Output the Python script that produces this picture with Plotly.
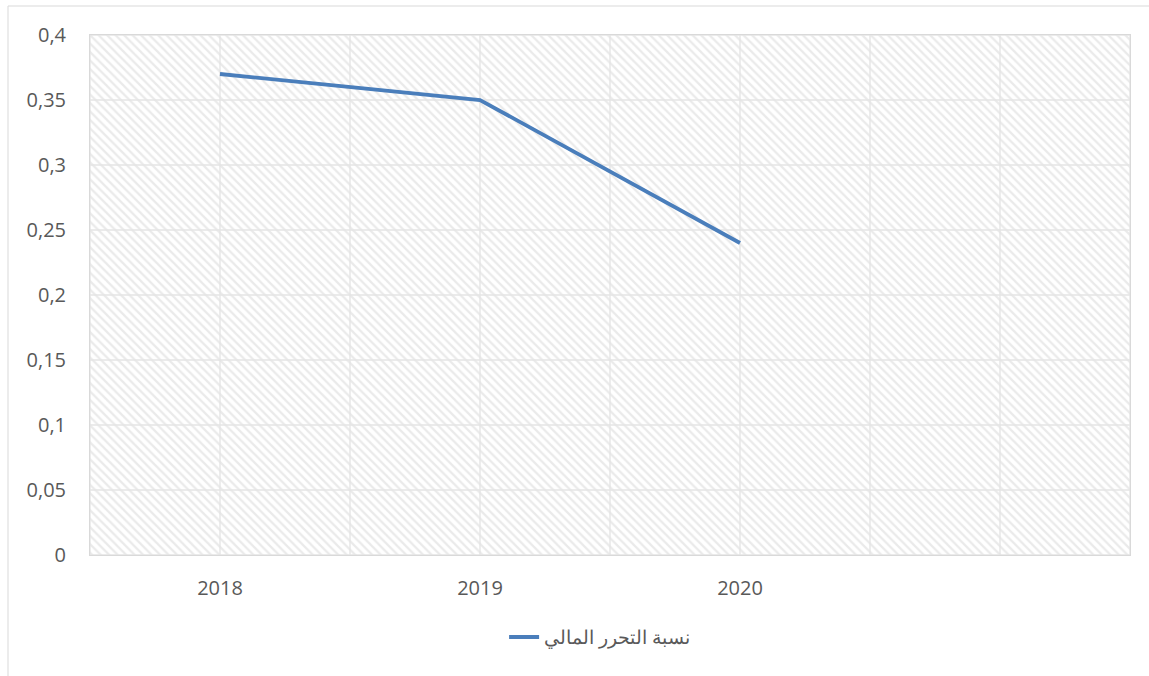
import plotly.graph_objects as go

years = ["2018", "2019", "2020"]
ratio = [0.37, 0.35, 0.24]
series_name = "نسبة التحرر المالي"
y_ticks = [0, 0.05, 0.1, 0.15, 0.2, 0.25, 0.3, 0.35, 0.4]
y_tick_labels = ["0", "0,05", "0,1", "0,15", "0,2", "0,25", "0,3", "0,35", "0,4"]

n_cat = 4
x_pos = list(range(len(years)))
x_lo, x_hi = -0.5, n_cat - 0.5
y_lo, y_hi = y_ticks[0], y_ticks[-1]

grid_vals = [i * 0.5 - 0.5 for i in range(2 * n_cat + 1)]
grid_text = []
for v in grid_vals:
    if abs(v - round(v)) < 1e-9 and 0 <= round(v) < len(years):
        grid_text.append(years[int(round(v))])
    else:
        grid_text.append("")

fig = go.Figure()

# hatched plot-area background
fig.add_trace(go.Scatter(
    x=[x_lo, x_hi, x_hi, x_lo, x_lo],
    y=[y_lo, y_lo, y_hi, y_hi, y_lo],
    mode="lines", line=dict(width=0), fill="toself",
    fillcolor="white",
    fillpattern=dict(shape="\\", fgcolor="#d6d6d6", bgcolor="white", size=6, solidity=0.38),
    showlegend=False, hoverinfo="skip",
))

# gridlines drawn above the hatch
gx, gy = [], []
for v in grid_vals:
    gx += [v, v, None]
    gy += [y_lo, y_hi, None]
for v in y_ticks:
    gx += [x_lo, x_hi, None]
    gy += [v, v, None]
fig.add_trace(go.Scatter(
    x=gx, y=gy, mode="lines", line=dict(color="#e4e4e4", width=1.3),
    showlegend=False, hoverinfo="skip",
))

fig.add_trace(go.Scatter(
    x=x_pos, y=ratio, mode="lines", name=series_name,
    line=dict(color="#4a7ebb", width=3.8),
))

font_color = "#595959"
fig.update_layout(
    width=1149, height=676,
    margin=dict(l=90, r=19, t=35, b=121),
    paper_bgcolor="white", plot_bgcolor="white",
    font=dict(family="Open Sans, Liberation Sans, sans-serif", size=19, color=font_color),
    xaxis=dict(range=[x_lo, x_hi], tickvals=grid_vals, ticktext=grid_text,
               showgrid=False, zeroline=False, showline=True, linecolor="#d9d9d9", mirror=True,
               ticks="", ticklabelstandoff=15, tickfont=dict(size=20, color=font_color)),
    yaxis=dict(range=[y_lo, y_hi], tickvals=y_ticks, ticktext=y_tick_labels,
               showgrid=False, zeroline=False, showline=True, linecolor="#d9d9d9", mirror=True,
               ticks="", ticklabelstandoff=19, tickfont=dict(size=20, color=font_color)),
    showlegend=True,
    legend=dict(orientation="h", x=0.49, xanchor="center", y=-0.158, yanchor="middle",
                font=dict(size=19, color=font_color), bgcolor="rgba(0,0,0,0)"),
    shapes=[dict(type="rect", xref="paper", yref="paper",
                 x0=(8 - 90) / 1040, x1=(1170 - 90) / 1040,
                 y0=(555 - 700) / 520, y1=(555 - 6) / 520,
                 line=dict(color="#d9d9d9", width=1), fillcolor="rgba(0,0,0,0)", layer="below")],
)

fig.write_html("out.html")
